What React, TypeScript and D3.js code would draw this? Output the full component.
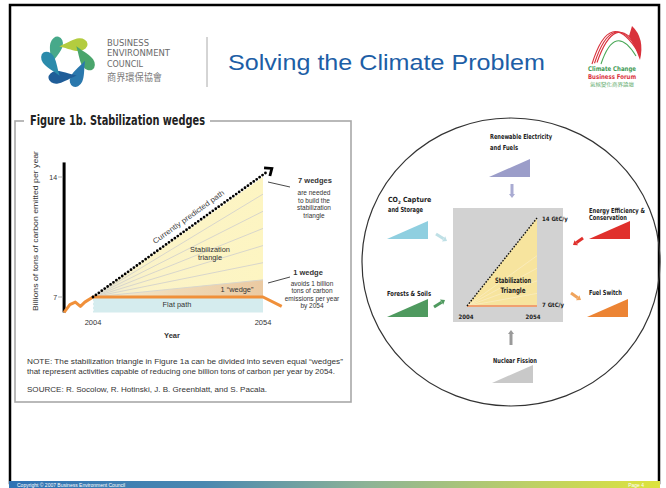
import React from 'react';
import * as d3 from 'd3';

// ---- left figure data (years / billions of tons of carbon) ----
const historyYears = [1995.5, 1997.2, 1998.8, 2000.3, 2001.6, 2004];
const historyValues = [6.1, 6.55, 6.7, 6.45, 6.7, 7];
const flatYears = [2004, 2054, 2059.5];
const flatValues = [7, 7, 6.45];
const predictedYears = [2004, 2056.6];
const predictedValues = [7, 14.5];
const wedgeTops = [8, 9, 10, 11, 12, 13];
const xTicks = [2004, 2054];
const yTicks = [7, 14];

// ---- right diagram: the seven wedge families ----
const wedgeNames = [
  ['Renewable Electricity', 'and Fuels'],
  ['CO2 Capture', 'and Storage'],
  ['Energy Efficiency &', 'Conservation'],
  ['Forests & Soils'],
  ['Fuel Switch'],
  ['Nuclear Fission'],
];
const wedgeColors = ['#9b9dc9', '#8fcfe0', '#e0302c', '#4f9a5f', '#ec8434', '#c9c9c9'];
const arrowColors = ['#a9abd2', '#bfe0e6', '#e0302c', '#4f9a5f', '#f0a45c', '#9a9a9a'];

const FONT = "'Liberation Sans', Arial, sans-serif";
const NARROW = "'Liberation Sans Narrow', 'DejaVu Sans Condensed', 'Liberation Sans', sans-serif";

// positions on the slide for the wedge families (left x / bottom y of triangle, label, arrow)
const wedgeLayout = [
  { tx: 489, ty: 177, lx: 490, ly: [139, 149.5], lw: [62, 28], a: [512, 184, 512, 198] },
  { tx: 387, ty: 239, lx: 388, ly: [202, 212], lw: [35, 35], a: [436, 234, 447, 241] },
  { tx: 589, ty: 239, lx: 589, ly: [212.5, 219.5], lw: [56, 38], a: [583, 238, 573, 245] },
  { tx: 387, ty: 317, lx: 387, ly: [296], lw: [44], a: [434, 307, 445, 300] },
  { tx: 587, ty: 317, lx: 589, ly: [295], lw: [33], a: [571, 293, 581, 300] },
  { tx: 492, ty: 383, lx: 493, ly: [362.5], lw: [44], a: [511, 345, 511, 330] },
];

function Arrow({ a, color }: { a: number[]; color: string }) {
  const [x1, y1, x2, y2] = a;
  const len = Math.hypot(x2 - x1, y2 - y1);
  const ux = (x2 - x1) / len, uy = (y2 - y1) / len;
  const bx = x2 - ux * 4, by = y2 - uy * 4;
  const head = `${x2},${y2} ${bx - uy * 3},${by + ux * 3} ${bx + uy * 3},${by - ux * 3}`;
  return (
    <g>
      <line x1={x1} y1={y1} x2={bx} y2={by} stroke={color} strokeWidth={3} />
      <polygon points={head} fill={color} />
    </g>
  );
}

function BecLogo() {
  const cx = 68, cy = 61;
  const drops = [
    { ang: -125, c: '#47a98a' },
    { ang: -55, c: '#b3cc3f' },
    { ang: 5, c: '#4aa56c' },
    { ang: 65, c: '#2a78ad' },
    { ang: 125, c: '#1f5d98' },
    { ang: 185, c: '#2b8bab' },
  ];
  const drop = 'M0,-15 C3,-8 6,-4 6,0 A6,6 0 0 1 -6,0 C-6,-4 -3,-8 0,-15 Z';
  return (
    <g>
      {drops.map((d, i) => {
        const r = (d.ang * Math.PI) / 180;
        const px = cx + Math.cos(r) * 20, py = cy + Math.sin(r) * 20;
        return (
          <path key={i} d={drop} fill={d.c}
            transform={`translate(${px},${py}) rotate(${d.ang - 40}) scale(1.05,1.35)`} />
        );
      })}
      {['BUSINESS', 'ENVIRONMENT', 'COUNCIL'].map((t, i) => (
        <text key={t} x={107} y={45.5 + i * 10.5} fontSize={9.5} fill="#6a6a6a"
          fontFamily="'DejaVu Sans Condensed', 'DejaVu Sans', sans-serif"
          textLength={[42, 63, 36][i]} lengthAdjust="spacingAndGlyphs">{t}</text>
      ))}
      <text x={107} y={81} fontSize={10} fill="#7a7a7a" fontFamily="'Noto Sans CJK TC', sans-serif"
        textLength={55} lengthAdjust="spacingAndGlyphs">商界環保協會</text>
      <line x1={207} y1={37} x2={207} y2={87} stroke="#aaa" strokeWidth={1} />
    </g>
  );
}

function ForumLogo() {
  return (
    <g>
      {[0, 2.5, 5].map((o) => (
        <path key={o} d={`M${592 + o},${64 - o * 0.3} Q${610 + o},${6 + o} ${638},${52 - o}`}
          fill="none" stroke="#d9323c" strokeWidth={1.1} />
      ))}
      <path d="M601,64 Q615,22 636,56" fill="none" stroke="#4aa857" strokeWidth={1.1} />
      <path d="M632,26 Q645,38 640,60 Q636,48 629,36 Z" fill="#d9323c" />
      <text x={612} y={70.5} fontSize={6.5} fontWeight="bold" fill="#3f9a55" textAnchor="middle"
        fontFamily={NARROW} textLength={48} lengthAdjust="spacingAndGlyphs">Climate Change</text>
      <text x={612} y={78.5} fontSize={6.5} fontWeight="bold" fill="#d9323c" textAnchor="middle"
        fontFamily={NARROW} textLength={48} lengthAdjust="spacingAndGlyphs">Business Forum</text>
      <text x={612} y={86} fontSize={5} fill="#5aa868" textAnchor="middle"
        fontFamily="'Noto Sans CJK TC', sans-serif" textLength={44} lengthAdjust="spacingAndGlyphs">氣候變化商界論壇</text>
    </g>
  );
}

function WedgesFigure() {
  const x = d3.scaleLinear().domain([2004, 2054]).range([93, 263]);
  const y = d3.scaleLinear().domain([7, 14]).range([297, 177]);
  const axisX = x(historyYears[0]);
  const axisBottom = y(6.1);

  const line = d3.line<[number, number]>().x((d) => x(d[0])).y((d) => y(d[1]));
  const history = historyYears.map((t, i) => [t, historyValues[i]] as [number, number]);
  const flat = flatYears.map((t, i) => [t, flatValues[i]] as [number, number]);
  const orange = line([...history, ...flat.slice(1)]) as string;

  const flatArea = d3.area<number>().x((t) => x(t)).y0(axisBottom).y1(() => y(7))([2004, 2054]) as string;
  const tri = [[2004, 7], [2054, 14], [2054, 7]].map((d) => `${x(d[0])},${y(d[1])}`).join(' ');
  const wedge1 = [[2004, 7], [2054, 8], [2054, 7]].map((d) => `${x(d[0])},${y(d[1])}`).join(' ');

  // predicted path with arrowhead
  const p0: [number, number] = [x(predictedYears[0]), y(predictedValues[0])];
  const p1: [number, number] = [x(predictedYears[1]), y(predictedValues[1])];
  const len = Math.hypot(p1[0] - p0[0], p1[1] - p0[1]);
  const ux = (p1[0] - p0[0]) / len, uy = (p1[1] - p0[1]) / len;
  const back = [p1[0] - ux * 6, p1[1] - uy * 6];
  const chevron = `${back[0] - uy * 5},${back[1] + ux * 5} ${p1[0]},${p1[1]} ${back[0] + uy * 5},${back[1] - ux * 5}`;
  const angle = (Math.atan2(p1[1] - p0[1], p1[0] - p0[0]) * 180) / Math.PI;

  const small = { fontFamily: FONT, fill: '#333' };

  return (
    <g>
      <defs>
        <linearGradient id="wedgeGrad" x1="0" x2="1" y1="0" y2="0">
          <stop offset="0" stopColor="#f3efd6" />
          <stop offset="0.5" stopColor="#efd9b6" />
          <stop offset="1" stopColor="#ebcaa2" />
        </linearGradient>
        <linearGradient id="triGrad" x1="0" x2="1" y1="0" y2="0">
          <stop offset="0" stopColor="#ebe7d4" />
          <stop offset="0.3" stopColor="#fbf3c8" />
          <stop offset="1" stopColor="#fdf5c2" />
        </linearGradient>
      </defs>
      {/* frame */}
      <rect x={15} y={121} width={336} height={281} fill="none" stroke="#a8a8a8" strokeWidth={1.6} />
      <rect x={24} y={112} width={186} height={16} fill="#fff" />
      <text x={30} y={125} fontSize={14} fontWeight="bold" fill="#222"
        fontFamily={NARROW} textLength={175} lengthAdjust="spacingAndGlyphs">Figure 1b. Stabilization wedges</text>

      {/* areas */}
      <path d={flatArea} fill="#d5ecee" />
      <polygon points={tri} fill="url(#triGrad)" />
      <polygon points={wedge1} fill="url(#wedgeGrad)" />
      {wedgeTops.map((v) => (
        <line key={v} x1={x(2004)} y1={y(7)} x2={x(2054)} y2={y(v)} stroke="#d8d6cc" strokeWidth={1} />
      ))}
      <line x1={x(2004)} y1={y(7)} x2={x(2004)} y2={axisBottom} stroke="#fff" strokeWidth={1.2} strokeDasharray="2 2" />

      {/* axis */}
      <line x1={axisX} y1={axisBottom} x2={axisX} y2={y(14.85)} stroke="#000" strokeWidth={3} />
      {yTicks.map((v) => (
        <g key={v}>
          <line x1={axisX - 6} y1={y(v)} x2={axisX - 1} y2={y(v)} stroke="#999" strokeWidth={0.8} />
          <text x={axisX - 7} y={y(v) + 2.5} fontSize={7} textAnchor="end" {...small}>{v}</text>
        </g>
      ))}
      {xTicks.map((t) => (
        <text key={t} x={x(t)} y={325} fontSize={7.5} textAnchor="middle" {...small}>{t}</text>
      ))}
      <text x={172} y={338} fontSize={7.5} fontWeight="bold" textAnchor="middle" {...small}>Year</text>
      <text transform="translate(38,231) rotate(-90)" fontSize={7.2} textAnchor="middle" {...small}
        textLength={160} lengthAdjust="spacingAndGlyphs">Billions of tons of carbon emitted per year</text>

      {/* paths */}
      <path d={orange} fill="none" stroke="#f0903a" strokeWidth={3} strokeLinejoin="round" />
      <line x1={p0[0]} y1={p0[1]} x2={back[0]} y2={back[1]} stroke="#000" strokeWidth={2.8}
        strokeDasharray="0 3.6" strokeLinecap="round" />
      <polyline points={chevron} fill="none" stroke="#000" strokeWidth={2.8} strokeLinejoin="miter" />

      {/* labels */}
      <text transform={`translate(190,219) rotate(${angle})`} fontSize={7.4} textAnchor="middle"
        fontFamily={FONT} fill="#444" textLength={86} lengthAdjust="spacingAndGlyphs">Currently predicted path</text>
      <text x={210} y={252} fontSize={7.4} textAnchor="middle" {...small}>Stabilization</text>
      <text x={210} y={260} fontSize={7.4} textAnchor="middle" {...small}>triangle</text>
      <text x={237} y={291.5} fontSize={7.4} textAnchor="middle" {...small}>1 “wedge”</text>
      <text x={177} y={306.5} fontSize={7.4} textAnchor="middle" {...small}>Flat path</text>

      <line x1={268} y1={182} x2={290} y2={187} stroke="#333" strokeWidth={0.9} />
      <text x={315} y={182.5} fontSize={7.5} fontWeight="bold" textAnchor="middle" {...small}>7 wedges</text>
      {['are needed', 'to build the', 'stabilization', 'triangle'].map((t, i) => (
        <text key={t} x={314} y={195 + i * 7.5} fontSize={6.5} textAnchor="middle" {...small}>{t}</text>
      ))}
      <line x1={268} y1={283} x2={290} y2={277} stroke="#333" strokeWidth={0.9} />
      <text x={308} y={274.5} fontSize={7.5} fontWeight="bold" textAnchor="middle" {...small}>1 wedge</text>
      {['avoids 1 billion', 'tons of carbon', 'emissions per year', 'by 2054'].map((t, i) => (
        <text key={t} x={312} y={285.5 + i * 7.5} fontSize={6.5} textAnchor="middle" {...small}>{t}</text>
      ))}

      <text x={27} y={363.5} fontSize={7.4} {...small} textLength={316} lengthAdjust="spacingAndGlyphs">
        NOTE: The stabilization triangle in Figure 1a can be divided into seven equal “wedges”</text>
      <text x={27} y={374} fontSize={7.4} {...small} textLength={308} lengthAdjust="spacingAndGlyphs">
        that represent activities capable of reducing one billion tons of carbon per year by 2054.</text>
      <text x={27} y={391.5} fontSize={7.4} {...small} textLength={240} lengthAdjust="spacingAndGlyphs">
        SOURCE: R. Socolow, R. Hotinski, J. B. Greenblatt, and S. Pacala.</text>
    </g>
  );
}

function WedgeWheel() {
  const xi = d3.scaleLinear().domain([2004, 2054]).range([467, 537]);
  const yi = d3.scaleLinear().domain([7, 14]).range([306, 218]);
  const xm = d3.scaleLinear().domain([2004, 2054]).range([0, 41]);
  const ym = d3.scaleLinear().domain([0, 1]).range([0, -18]);
  const tri = [[2004, 7], [2054, 14], [2054, 7]].map((d) => `${xi(d[0])},${yi(d[1])}`).join(' ');
  const mini = [[2004, 0], [2054, 1], [2054, 0]].map((d) => `${xm(d[0])},${ym(d[1])}`).join(' ');
  const bold = { fontFamily: NARROW, fontWeight: 'bold' as const, fill: '#222' };

  return (
    <g>
      <ellipse cx={511} cy={262} rx={149} ry={144} fill="none" stroke="#333" strokeWidth={1.2} />
      <rect x={453} y={208} width={110} height={114} fill="#d2d2d2" />
      <polygon points={tri} fill="#f7e49e" />
      {[8, 9, 10, 11].map((v) => (
        <line key={v} x1={xi(2004)} y1={yi(7)} x2={xi(2054)} y2={yi(v)} stroke="#faecc0" strokeWidth={0.8} />
      ))}
      <line x1={xi(2004)} y1={yi(7)} x2={xi(2054)} y2={yi(7)} stroke="#f0a070" strokeWidth={2} />
      <line x1={xi(2004)} y1={yi(7)} x2={xi(2054)} y2={yi(14)} stroke="#111" strokeWidth={1.4} strokeDasharray="1.6 1.4" />
      <text x={xi(2054) + 5} y={yi(14) + 2.5} fontSize={6} {...bold}>14 GtC/y</text>
      <text x={xi(2054) + 5} y={yi(7) + 0.5} fontSize={6} {...bold}>7 GtC/y</text>
      <text x={xi(2004) - 1} y={318.5} fontSize={6} textAnchor="middle" {...bold}>2004</text>
      <text x={xi(2054) - 4} y={318.5} fontSize={6} textAnchor="middle" {...bold}>2054</text>
      <text x={513} y={282.5} fontSize={7.5} textAnchor="middle" {...bold} textLength={36} lengthAdjust="spacingAndGlyphs">Stabilization</text>
      <text x={513} y={292.5} fontSize={7.5} textAnchor="middle" {...bold} textLength={25} lengthAdjust="spacingAndGlyphs">Triangle</text>

      {wedgeLayout.map((w, i) => (
        <g key={i}>
          <polygon points={mini} fill={wedgeColors[i]} transform={`translate(${w.tx},${w.ty})`} />
          {wedgeNames[i].map((t, j) =>
            t.startsWith('CO2') ? (
              <text key={t} x={w.lx} y={w.ly[j]} fontSize={7} {...bold}>
                CO<tspan fontSize={4.5} dy={1.5}>2</tspan><tspan dy={-1.5}> Capture</tspan>
              </text>
            ) : (
              <text key={t} x={w.lx} y={w.ly[j]} fontSize={7} {...bold}
                textLength={w.lw[j]} lengthAdjust="spacingAndGlyphs">{t}</text>
            )
          )}
          <Arrow a={w.a} color={arrowColors[i]} />
        </g>
      ))}
    </g>
  );
}

export default function App() {
  return (
    <svg width={666} height={488} style={{ position: 'absolute', left: 0, top: 0, background: '#fff' }}>
      <defs>
        <linearGradient id="footGrad" x1="0" x2="1" y1="0" y2="0">
          <stop offset="0" stopColor="#2f72b4" />
          <stop offset="0.3" stopColor="#4a88b0" />
          <stop offset="0.55" stopColor="#8db396" />
          <stop offset="0.8" stopColor="#bdd066" />
          <stop offset="1" stopColor="#dde33e" />
        </linearGradient>
      </defs>
      <rect x={0} y={0} width={666} height={488} fill="#fff" />
      <rect x={10} y={5} width={649} height={478} fill="none" stroke="#000" strokeWidth={2.5} />
      <rect x={9} y={481} width={651} height={7} fill="url(#footGrad)" />
      <text x={17} y={487} fontSize={5} fill="#fff" fontFamily={FONT}>Copyright © 2007 Business Environment Council</text>
      <text x={644} y={487} fontSize={5} fill="#fff" textAnchor="end" fontFamily={FONT}>Page 4</text>

      <BecLogo />
      <text x={228} y={70} fontSize={22} fill="#1d5ea6" fontFamily={FONT}
        textLength={317} lengthAdjust="spacingAndGlyphs">Solving the Climate Problem</text>
      <ForumLogo />

      <WedgesFigure />
      <WedgeWheel />
    </svg>
  );
}
